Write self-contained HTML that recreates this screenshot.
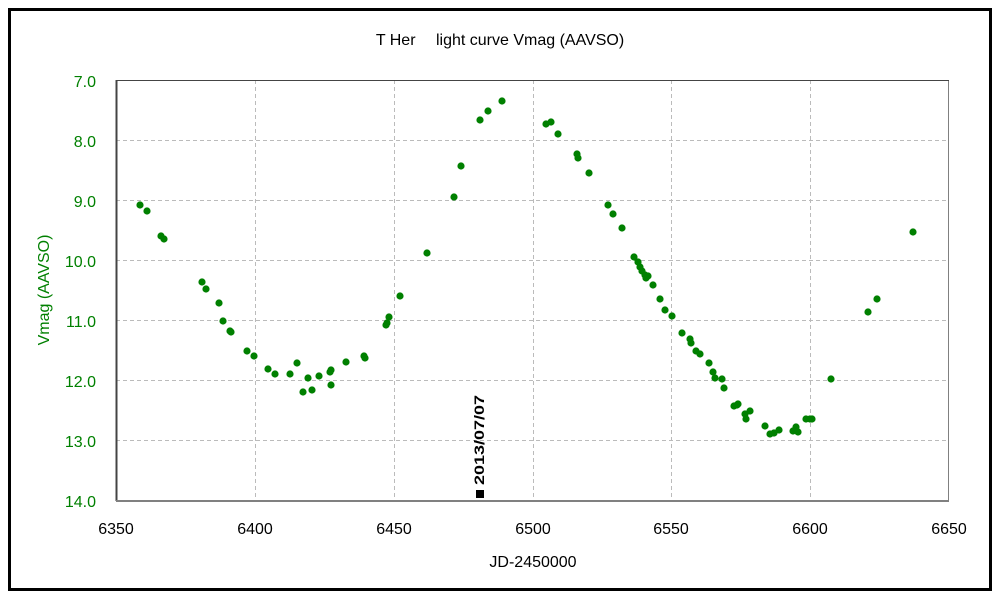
<!DOCTYPE html>
<html><head><meta charset="utf-8"><style>
body{margin:0;background:#fff;}
svg{display:block;font-family:"Liberation Sans","Noto Sans CJK JP",sans-serif;}
</style></head><body>
<svg width="1000" height="600" viewBox="0 0 1000 600">
<rect x="0" y="0" width="1000" height="600" fill="#fff"/>
<rect x="9.5" y="9.5" width="981" height="580" fill="none" stroke="#000" stroke-width="3"/>
<text x="500" y="45" font-size="16" text-anchor="middle">T Her　 light curve  Vmag (AAVSO)</text>
<g stroke="#bbb" stroke-width="1" stroke-dasharray="4,3">
<line x1="116" y1="140.5" x2="949" y2="140.5"/><line x1="116" y1="200.5" x2="949" y2="200.5"/>
<line x1="116" y1="260.5" x2="949" y2="260.5"/><line x1="116" y1="320.5" x2="949" y2="320.5"/>
<line x1="116" y1="380.5" x2="949" y2="380.5"/><line x1="116" y1="440.5" x2="949" y2="440.5"/>
<line x1="255.5" y1="80" x2="255.5" y2="500"/><line x1="394.5" y1="80" x2="394.5" y2="500"/>
<line x1="533.5" y1="80" x2="533.5" y2="500"/><line x1="671.5" y1="80" x2="671.5" y2="500"/>
<line x1="810.5" y1="80" x2="810.5" y2="500"/>
</g>
<rect x="116.5" y="80.5" width="832" height="420" fill="none" stroke="#808080" stroke-width="1"/>
<line x1="116.5" y1="80" x2="116.5" y2="501" stroke="#444" stroke-width="2"/>
<line x1="116" y1="80.5" x2="949" y2="80.5" stroke="#444" stroke-width="1"/>
<line x1="116" y1="501" x2="949" y2="501" stroke="#808080" stroke-width="2"/>
<g font-size="16" fill="#008000" text-anchor="end">
<text x="96" y="87">7.0</text><text x="96" y="147">8.0</text><text x="96" y="207">9.0</text>
<text x="96" y="267">10.0</text><text x="96" y="327">11.0</text><text x="96" y="387">12.0</text>
<text x="96" y="447">13.0</text><text x="96" y="507">14.0</text>
</g>
<g font-size="16" fill="#000" text-anchor="middle">
<text x="116" y="534">6350</text><text x="255" y="534">6400</text><text x="394" y="534">6450</text>
<text x="533" y="534">6500</text><text x="671" y="534">6550</text><text x="810" y="534">6600</text>
<text x="949" y="534">6650</text>
</g>
<text x="533" y="567" font-size="16" text-anchor="middle">JD-2450000</text>
<text transform="translate(49,290) rotate(-90)" font-size="16" fill="#008000" text-anchor="middle">Vmag (AAVSO)</text>
<rect x="476" y="490" width="8" height="8" fill="#000"/>
<text transform="translate(484,440) rotate(-90)" font-size="14" font-weight="bold" text-anchor="middle" textLength="90" lengthAdjust="spacingAndGlyphs">2013/07/07</text>
<g fill="#008000">
<circle cx="140" cy="205" r="3.6"/><circle cx="147" cy="211" r="3.6"/><circle cx="161" cy="236" r="3.6"/><circle cx="164" cy="239" r="3.6"/>
<circle cx="202" cy="282" r="3.6"/><circle cx="206" cy="289" r="3.6"/><circle cx="219" cy="303" r="3.6"/><circle cx="223" cy="321" r="3.6"/>
<circle cx="230" cy="331" r="3.6"/><circle cx="231" cy="332" r="3.6"/><circle cx="247" cy="351" r="3.6"/><circle cx="254" cy="356" r="3.6"/>
<circle cx="268" cy="369" r="3.6"/><circle cx="275" cy="374" r="3.6"/><circle cx="290" cy="374" r="3.6"/><circle cx="297" cy="363" r="3.6"/>
<circle cx="303" cy="392" r="3.6"/><circle cx="308" cy="378" r="3.6"/><circle cx="312" cy="390" r="3.6"/><circle cx="319" cy="376" r="3.6"/>
<circle cx="330" cy="372" r="3.6"/><circle cx="331" cy="370" r="3.6"/><circle cx="331" cy="385" r="3.6"/><circle cx="346" cy="362" r="3.6"/>
<circle cx="364" cy="356" r="3.6"/><circle cx="365" cy="358" r="3.6"/><circle cx="386" cy="325" r="3.6"/><circle cx="387" cy="323" r="3.6"/>
<circle cx="389" cy="317" r="3.6"/><circle cx="400" cy="296" r="3.6"/><circle cx="427" cy="253" r="3.6"/><circle cx="454" cy="197" r="3.6"/>
<circle cx="461" cy="166" r="3.6"/><circle cx="480" cy="120" r="3.6"/><circle cx="488" cy="111" r="3.6"/><circle cx="502" cy="101" r="3.6"/>
<circle cx="546" cy="124" r="3.6"/><circle cx="551" cy="122" r="3.6"/><circle cx="558" cy="134" r="3.6"/><circle cx="577" cy="154" r="3.6"/>
<circle cx="578" cy="158" r="3.6"/><circle cx="589" cy="173" r="3.6"/><circle cx="608" cy="205" r="3.6"/><circle cx="613" cy="214" r="3.6"/>
<circle cx="622" cy="228" r="3.6"/><circle cx="634" cy="257" r="3.6"/><circle cx="638" cy="262" r="3.6"/><circle cx="640" cy="267" r="3.6"/>
<circle cx="642" cy="271" r="3.6"/><circle cx="645" cy="275" r="3.6"/><circle cx="646" cy="278" r="3.6"/><circle cx="648" cy="276" r="3.6"/>
<circle cx="653" cy="285" r="3.6"/><circle cx="660" cy="299" r="3.6"/><circle cx="665" cy="310" r="3.6"/><circle cx="672" cy="316" r="3.6"/>
<circle cx="682" cy="333" r="3.6"/><circle cx="690" cy="339" r="3.6"/><circle cx="691" cy="343" r="3.6"/><circle cx="696" cy="351" r="3.6"/>
<circle cx="700" cy="354" r="3.6"/><circle cx="709" cy="363" r="3.6"/><circle cx="713" cy="372" r="3.6"/><circle cx="715" cy="378" r="3.6"/>
<circle cx="722" cy="379" r="3.6"/><circle cx="724" cy="388" r="3.6"/><circle cx="734" cy="406" r="3.6"/><circle cx="737" cy="405" r="3.6"/>
<circle cx="738" cy="404" r="3.6"/><circle cx="745" cy="414" r="3.6"/><circle cx="746" cy="419" r="3.6"/><circle cx="750" cy="411" r="3.6"/>
<circle cx="765" cy="426" r="3.6"/><circle cx="770" cy="434" r="3.6"/><circle cx="774" cy="433" r="3.6"/><circle cx="779" cy="430" r="3.6"/>
<circle cx="793" cy="431" r="3.6"/><circle cx="796" cy="427" r="3.6"/><circle cx="798" cy="432" r="3.6"/><circle cx="806" cy="419" r="3.6"/>
<circle cx="810" cy="419" r="3.6"/><circle cx="812" cy="419" r="3.6"/><circle cx="831" cy="379" r="3.6"/><circle cx="868" cy="312" r="3.6"/>
<circle cx="877" cy="299" r="3.6"/><circle cx="913" cy="232" r="3.6"/>
</g>
</svg>
</body></html>
